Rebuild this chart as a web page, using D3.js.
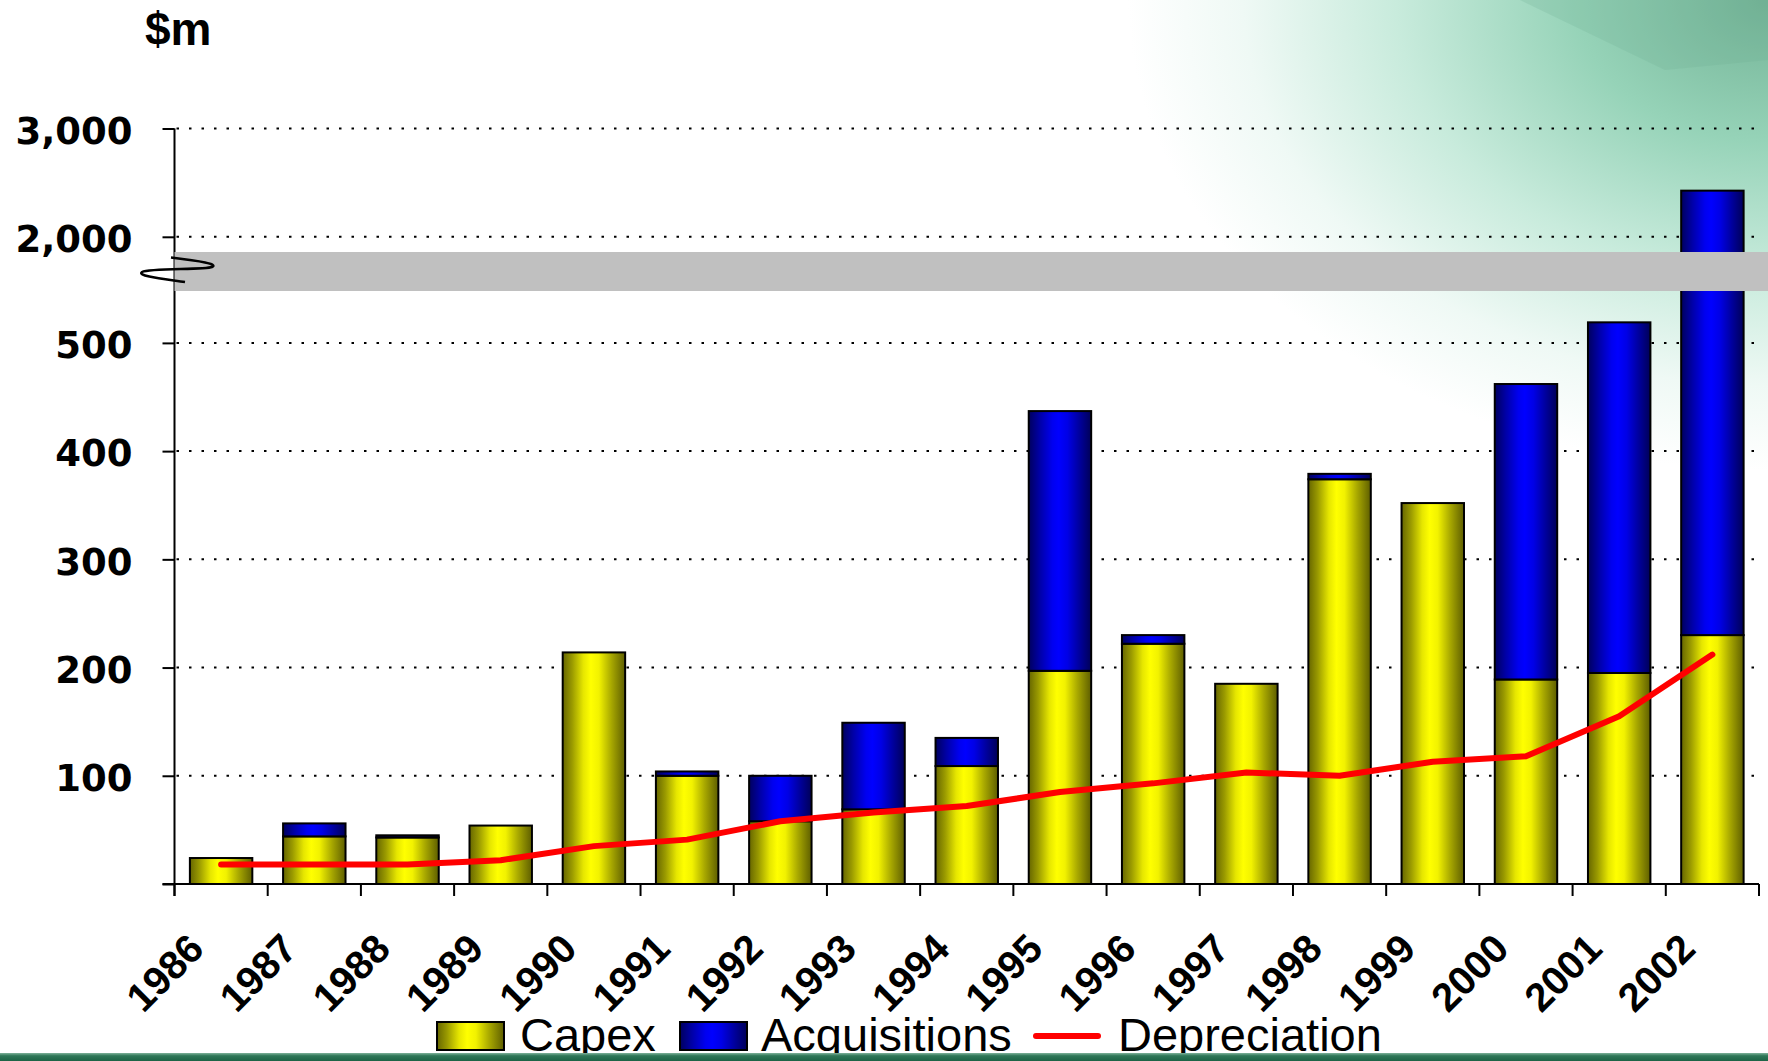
<!DOCTYPE html>
<html><head><meta charset="utf-8">
<script src="https://cdn.jsdelivr.net/npm/d3@7"></script>
<style>html,body{margin:0;padding:0;background:#fff;overflow:hidden}</style>
</head><body>
<script>
// ---- data ----
const years = ["1986","1987","1988","1989","1990","1991","1992","1993","1994","1995","1996","1997","1998","1999","2000","2001","2002"];
const capex = [24, 44, 43, 54, 214, 100, 58, 69, 109, 197, 222, 185, 374, 352, 189, 195, 230];
const acquisitions = [0, 12, 2, 0, 0, 4, 42, 80, 26, 240, 8, 0, 5, 0, 273, 324, 2196];
const depreciation = [18, 18, 18, 22, 35, 41, 58, 66, 72, 85, 93, 103, 100, 113, 118, 155, 212];
const yTickValues = [0, 100, 200, 300, 400, 500, 2000, 3000];
const yBreakDomain = [0, 548, 1860, 3000];   // lower segment ends / upper segment starts at the break band
const seriesNames = ["Capex", "Acquisitions", "Depreciation"];

const W = 1768, H = 1061;
const plotLeft = 174.5, plotRight = 1759, baseY = 884;
const lowK = 1.0822, highK = 0.10832;  // px per unit below / above the break

const svg = d3.select("body").append("svg").attr("width", W).attr("height", H)
  .style("font-family", "'Liberation Sans', Arial, sans-serif");
const defs = svg.append("defs");

// background gradient
const bg = defs.append("radialGradient").attr("id", "bgGrad")
  .attr("gradientUnits", "userSpaceOnUse").attr("cx", 0).attr("cy", 0).attr("r", 1)
  .attr("gradientTransform", "translate(1768,0) scale(640,470)");
[[0, "#72b295"], [0.3, "#96d3b8"], [0.58, "#c8ebdc"], [0.82, "#eff9f5"], [1, "#ffffff"]]
  .forEach(([o, c]) => bg.append("stop").attr("offset", o).attr("stop-color", c));

function hGrad(id, stops) {
  const g = defs.append("linearGradient").attr("id", id).attr("x1", 0).attr("x2", 1).attr("y1", 0).attr("y2", 0);
  stops.forEach(([o, c]) => g.append("stop").attr("offset", o).attr("stop-color", c));
}
hGrad("yellowGrad", [[0, "#666600"], [0.15, "#9a9a00"], [0.33, "#e6e600"], [0.45, "#ffff00"], [0.58, "#f2f200"], [0.78, "#a8a800"], [1, "#5e5e00"]]);
hGrad("blueGrad", [[0, "#00005e"], [0.18, "#0000a8"], [0.38, "#0000f0"], [0.48, "#0000ff"], [0.62, "#0000e6"], [0.82, "#00009a"], [1, "#000058"]]);
const sg = defs.append("linearGradient").attr("id", "stripGrad").attr("x1", 0).attr("x2", 0).attr("y1", 0).attr("y2", 1);
[[0, "#7fb39b"], [0.35, "#2f7758"], [1, "#1d6346"]]
  .forEach(([o, c]) => sg.append("stop").attr("offset", o).attr("stop-color", c));

svg.append("rect").attr("width", W).attr("height", H).attr("fill", "#fff");
svg.append("rect").attr("width", W).attr("height", H).attr("fill", "url(#bgGrad)");
svg.append("polygon").attr("points", "1520,0 1768,0 1768,60 1665,70")
  .attr("fill", "#6fae92").attr("opacity", 0.22);

// ---- scales ----
const x = d3.scaleBand().domain(years).range([plotLeft, plotRight]).paddingInner(0.33).paddingOuter(0.165);
const y = d3.scaleLinear().domain(yBreakDomain)
  .range([baseY, baseY - 548 * lowK, 236.8 + 140 * highK, 236.8 - 1000 * highK]);

// gridlines
svg.append("g").selectAll("line").data(yTickValues.filter(d => d > 0)).join("line")
  .attr("x1", plotLeft + 2).attr("x2", plotRight).attr("y1", d => y(d)).attr("y2", d => y(d))
  .attr("stroke", "#000").attr("stroke-width", 2).attr("stroke-dasharray", "2.5,10");

// ---- bars ----
const data = years.map((yr, i) => ({ yr, capex: capex[i], acq: acquisitions[i], dep: depreciation[i] }));
const bars = svg.append("g");
bars.selectAll("rect.capex").data(data).join("rect").attr("class", "capex")
  .attr("x", d => x(d.yr)).attr("width", x.bandwidth())
  .attr("y", d => y(d.capex)).attr("height", d => y(0) - y(d.capex))
  .attr("fill", "url(#yellowGrad)").attr("stroke", "#000").attr("stroke-width", 2);
bars.selectAll("rect.acq").data(data.filter(d => d.acq > 0)).join("rect").attr("class", "acq")
  .attr("x", d => x(d.yr)).attr("width", x.bandwidth())
  .attr("y", d => y(d.capex + d.acq)).attr("height", d => y(d.capex) - y(d.capex + d.acq))
  .attr("fill", "url(#blueGrad)").attr("stroke", "#000").attr("stroke-width", 2);

// depreciation line
svg.append("path").datum(data)
  .attr("d", d3.line().x(d => x(d.yr) + x.bandwidth() / 2).y(d => y(d.dep)))
  .attr("fill", "none").attr("stroke", "#ff0000").attr("stroke-width", 6)
  .attr("stroke-linecap", "round").attr("stroke-linejoin", "round");

// ---- y axis ----
const yAxis = svg.append("g").attr("transform", `translate(${plotLeft},0)`)
  .call(d3.axisLeft(y).tickValues(yTickValues).tickFormat(d3.format(",")).tickSize(12).tickPadding(30));
yAxis.select(".domain").remove();
yAxis.selectAll(".tick line").attr("stroke", "#000").attr("stroke-width", 2);
yAxis.selectAll(".tick text")
  .style("font-family", "'DejaVu Sans', Verdana, sans-serif").style("font-weight", "bold")
  .style("font-size", "37px").attr("fill", d => d === 0 ? "#ffffff" : "#000").attr("dy", "0.4em");
svg.append("line").attr("x1", plotLeft).attr("x2", plotLeft).attr("y1", y(3000)).attr("y2", baseY + 12)
  .attr("stroke", "#000").attr("stroke-width", 2);

// ---- x axis ----
const xAxis = svg.append("g").attr("transform", `translate(0,${baseY})`)
  .call(d3.axisBottom(x).tickSize(0));
xAxis.select(".domain").remove();
xAxis.selectAll(".tick text")
  .attr("x", 0).attr("y", 0).attr("dy", 0)
  .attr("transform", "translate(-15,67) rotate(-45)")
  .attr("text-anchor", "end")
  .style("font-family", "'Liberation Sans', Arial, sans-serif").style("font-weight", "bold")
  .style("font-size", "40px").attr("fill", "#000");
svg.append("line").attr("x1", plotLeft - 12).attr("x2", plotRight).attr("y1", baseY).attr("y2", baseY)
  .attr("stroke", "#000").attr("stroke-width", 2);
const step = x.step();
const boundaries = years.map(yr => x(yr) - step * x.paddingInner() / 2).concat([plotRight]);
svg.append("g").selectAll("line").data(boundaries).join("line")
  .attr("x1", d => d).attr("x2", d => d).attr("y1", baseY).attr("y2", baseY + 12)
  .attr("stroke", "#000").attr("stroke-width", 2);

// ---- axis break ----
svg.append("rect").attr("x", plotLeft).attr("y", 252).attr("width", W - plotLeft).attr("height", 39)
  .attr("fill", "#c0c0c0");
svg.append("path")
  .attr("d", "M171,257.5 C200,261 219,264 212,267 C205,270 150,268 142,272 C136,276 165,279 185,282")
  .attr("fill", "none").attr("stroke", "#000").attr("stroke-width", 2.5);

// $m label
svg.append("text").attr("x", 145).attr("y", 45).text("$m")
  .style("font-weight", "bold").style("font-size", "46px").attr("fill", "#000");

// ---- legend ----
const lg = svg.append("g").style("font-size", "47px").style("font-family", "'Liberation Sans', Arial, sans-serif");
lg.append("rect").attr("x", 437).attr("y", 1022).attr("width", 67).attr("height", 28)
  .attr("fill", "url(#yellowGrad)").attr("stroke", "#000").attr("stroke-width", 2);
lg.append("text").attr("x", 520).attr("y", 1051).text(seriesNames[0]).attr("fill", "#000");
lg.append("rect").attr("x", 680).attr("y", 1022).attr("width", 67).attr("height", 28)
  .attr("fill", "url(#blueGrad)").attr("stroke", "#000").attr("stroke-width", 2);
lg.append("text").attr("x", 761).attr("y", 1051).text(seriesNames[1]).attr("fill", "#000");
lg.append("line").attr("x1", 1036).attr("x2", 1098).attr("y1", 1036).attr("y2", 1036)
  .attr("stroke", "#ff0000").attr("stroke-width", 6).attr("stroke-linecap", "round");
lg.append("text").attr("x", 1118).attr("y", 1051).text(seriesNames[2]).attr("fill", "#000");

// bottom green strip
svg.append("rect").attr("x", 0).attr("y", 1053).attr("width", W).attr("height", 8).attr("fill", "url(#stripGrad)");
</script>
</body></html>
